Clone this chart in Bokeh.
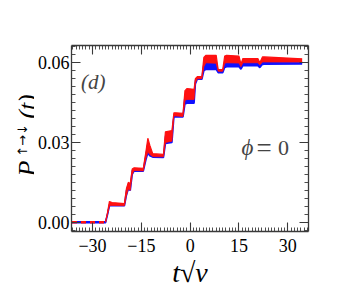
import math
from bokeh.plotting import figure
from bokeh.layouts import row
from bokeh.models import Range1d, FixedTicker, LinearAxis, Label, CustomJSTickFormatter
from bokeh.core.properties import value
from bokeh.embed import file_html
from bokeh.resources import INLINE

# time t*sqrt(v)
t = [-36.3, -26.0, -25.4, -24.8, -24.0, -20.2, -19.6, -19.0, -18.4, -17.8, -17.2,
     -14.4, -13.6, -13.0, -12.4, -11.5, -8.2, -7.6, -5.6, -5.0, -4.4, -2.2, -1.6,
     -1.0, 1.2, 1.6, 2.2, 3.6, 4.2, 4.8, 8.0, 8.6, 10.0, 10.6, 11.2, 15.0, 15.6,
     16.2, 20.8, 21.4, 22.2, 22.8, 34.4]

# blue curve envelope
blue_lo = [-0.0002, -0.0002, 0.0028, 0.0062, 0.0063, 0.0062, 0.0100, 0.0125, 0.0120, 0.0180, 0.0193,
           0.0192, 0.0235, 0.0260, 0.0250, 0.0245, 0.0244, 0.0296, 0.0300, 0.0396, 0.0397, 0.0396, 0.0445,
           0.0448, 0.0448, 0.0520, 0.0538, 0.0538, 0.0570, 0.0575, 0.0575, 0.0563, 0.0563, 0.0582, 0.0585, 0.0585, 0.0576,
           0.0589, 0.0589, 0.0582, 0.0594, 0.0595, 0.0596]
blue_hi = [0.0002, 0.0002, 0.0032, 0.0068, 0.0068, 0.0067, 0.0120, 0.0145, 0.0140, 0.0195, 0.0200,
           0.0199, 0.0255, 0.0300, 0.0275, 0.0252, 0.0251, 0.0325, 0.0330, 0.0404, 0.0404, 0.0403, 0.0480,
           0.0485, 0.0483, 0.0535, 0.0545, 0.0545, 0.0600, 0.0603, 0.0603, 0.0570, 0.0570, 0.0600, 0.0600, 0.0600, 0.0585,
           0.0600, 0.0600, 0.0590, 0.0603, 0.0603, 0.0602]

# red curve envelope (from t[1] on)
red_lo = [0.0, 0.0028, 0.0062, 0.0063, 0.0062, 0.0100, 0.0125, 0.0120, 0.0180, 0.0195,
          0.0193, 0.0240, 0.0265, 0.0255, 0.0247, 0.0246, 0.0300, 0.0305, 0.0400, 0.0400, 0.0398, 0.0458,
          0.0462, 0.0462, 0.0525, 0.0540, 0.0540, 0.0585, 0.0600, 0.0598, 0.0568, 0.0568, 0.0598, 0.0600, 0.0599, 0.0585,
          0.0600, 0.0600, 0.0592, 0.0603, 0.0603, 0.0603]
red_hi = [0.0, 0.0036, 0.0078, 0.0074, 0.0070, 0.0125, 0.0150, 0.0145, 0.0200, 0.0205,
          0.0203, 0.0265, 0.0316, 0.0290, 0.0258, 0.0255, 0.0340, 0.0345, 0.0412, 0.0412, 0.0410, 0.0495,
          0.0503, 0.0500, 0.0540, 0.0548, 0.0548, 0.0620, 0.0628, 0.0628, 0.0574, 0.0574, 0.0625, 0.0628, 0.0625, 0.0595,
          0.0616, 0.0616, 0.0600, 0.0622, 0.0622, 0.0615]

x_major = [-30, -15, 0, 15, 30]
y_major = [0.0, 0.03, 0.06]

FONT = "Liberation Serif"
AXC = "#3a3a3a"
FH = 186

p = figure(frame_width=237, frame_height=FH,
           x_range=Range1d(-36.45, 36.35), y_range=Range1d(-0.0035, 0.0665),
           output_backend="svg", toolbar_location=None,
           min_border_left=35, min_border_top=45, min_border_right=30, min_border_bottom=70)
p.outline_line_color = None
p.xgrid.visible = False
p.ygrid.visible = False

BLUE = "#1010ff"
RED = "#ff1010"
p.varea(x=t, y1=blue_lo, y2=blue_hi, fill_color=BLUE)
p.line(t, blue_lo, line_color=BLUE, line_width=1.6)
p.line(t, blue_hi, line_color=BLUE, line_width=1.2)
tr = t[1:]
p.varea(x=tr, y1=red_lo, y2=red_hi, fill_color=RED)
p.line(tr, red_hi, line_color=RED, line_width=1.2)
p.line(tr, red_lo, line_color=RED, line_width=0.8)
p.line([t[0], t[1]], [red_lo[0], red_lo[0]], line_color=RED, line_width=2.5, line_dash="5 4")

xfmt = CustomJSTickFormatter(code="return tick < 0 ? '\\u2212' + Math.abs(tick) : tick.toString();")
yfmt = CustomJSTickFormatter(code="return tick.toFixed(2);")
blank = CustomJSTickFormatter(code="return '';")


def xticker():
    return FixedTicker(ticks=x_major, minor_ticks=list(range(-36, 37)))


def yticker():
    return FixedTicker(ticks=y_major, minor_ticks=[round(i * 0.003, 4) for i in range(-1, 23)])


def style(ax, ticker):
    ax.ticker = ticker
    ax.axis_line_color = AXC
    ax.axis_line_width = 1.3
    ax.major_tick_line_color = AXC
    ax.minor_tick_line_color = AXC
    ax.major_tick_line_width = 1.1
    ax.minor_tick_line_width = 0.9
    ax.major_tick_in = 9
    ax.major_tick_out = 0
    ax.minor_tick_in = 4
    ax.minor_tick_out = 0
    ax.major_label_text_font = FONT
    ax.major_label_text_font_size = "18px"
    ax.major_label_text_color = "black"


style(p.xaxis[0], xticker())
p.xaxis[0].formatter = xfmt
p.xaxis[0].major_label_standoff = 7
p.xaxis[0].axis_label = "t\u221av"
p.xaxis[0].axis_label_text_font = FONT
p.xaxis[0].axis_label_text_font_size = "28px"
p.xaxis[0].axis_label_text_font_style = "italic"
p.xaxis[0].axis_label_text_color = "black"
p.xaxis[0].axis_label_standoff = 2
style(p.yaxis[0], yticker())
p.yaxis[0].formatter = yfmt
p.yaxis[0].major_label_standoff = 2

top = LinearAxis(formatter=blank, major_label_standoff=0)
style(top, xticker())
p.add_layout(top, "above")
right = LinearAxis(formatter=blank, major_label_standoff=0)
style(right, yticker())
p.add_layout(right, "right")

p.add_layout(Label(x=-33.5, y=0.0528, text="(d)", text_font=FONT, text_font_size="21px",
                   text_font_style="italic", text_align="left", text_baseline="alphabetic"))
p.add_layout(Label(x=19.4, y=0.0280, text="\u03d5", text_font=FONT, text_font_size="23px",
                   text_font_style="italic", text_align="right", text_baseline="alphabetic"))
p.add_layout(Label(x=22.7, y=0.0280, text="=", text_font=FONT, text_font_size="27px",
                   text_align="center", text_baseline="alphabetic"))
p.add_layout(Label(x=28.7, y=0.0280, text="0", text_font=FONT, text_font_size="22px",
                   text_align="center", text_baseline="alphabetic"))

# y-axis title panel (frame aligned with main frame: page y = 231 - y)
q = figure(frame_width=34, frame_height=FH, x_range=Range1d(0, 34), y_range=Range1d(0, FH),
           output_backend="svg", toolbar_location=None,
           min_border_left=0, min_border_right=0, min_border_top=45, min_border_bottom=70)
q.axis.visible = False
q.grid.visible = False
q.outline_line_color = None
q.text(x=[27], y=[231 - 168], text=["P"], angle=math.pi / 2, text_font=value(FONT),
       text_font_style="italic", text_font_size="26px", text_align="center",
       text_baseline="alphabetic", text_color="black")
q.text(x=[22], y=[231 - 140], text=["\u2191\u2192\u2193"], angle=math.pi / 2, text_font=value("DejaVu Sans"),
       text_font_size="13px", text_align="center", text_baseline="alphabetic", text_color="black")
q.text(x=[27], y=[231 - 106], text=["(t)"], angle=math.pi / 2, text_font=value(FONT),
       text_font_style="italic", text_font_size="26px", text_align="center",
       text_baseline="alphabetic", text_color="black")

layout = row(q, p)
open("out.html", "w").write(file_html(layout, INLINE))
